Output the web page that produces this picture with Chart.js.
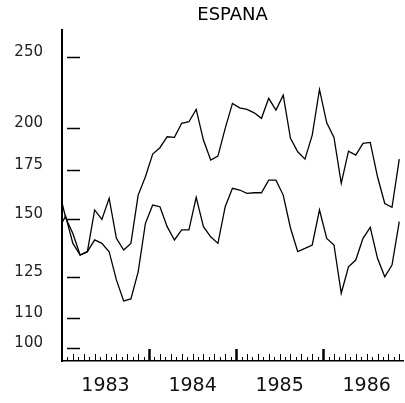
<!DOCTYPE html>
<html>
<head>
<meta charset="utf-8">
<script src="https://cdn.jsdelivr.net/npm/chart.js@4.4.0/dist/chart.umd.min.js"></script>
<style>
  html, body { margin: 0; padding: 0; background: #fff; }
  #caja { width: 405px; height: 403px; position: relative; }
</style>
</head>
<body>
<div id="caja"><canvas id="grafikEspana"></canvas></div>
<script>
// ===========================
// DATA GRAFIK
// ===========================

// serie mensual, dic 1982 - nov 1986
const inicioAnyo = 1982;
const inicioMes = 12;

const serieAlta = [
  165.8, 150.7, 143.4, 134.0, 135.4, 154.4, 149.9, 160.2, 141.2, 136.1, 139.0, 161.8,
  171.4, 184.1, 187.8, 194.4, 194.0, 202.8, 203.8, 211.9, 192.4, 180.7, 182.9, 199.6,
  215.9, 212.9, 211.9, 209.6, 206.0, 219.4, 211.4, 221.6, 193.4, 185.4, 181.2, 195.4,
  225.6, 203.1, 194.0, 167.9, 185.8, 183.5, 190.4, 191.0, 171.4, 157.6, 155.7, 181.2
];

const serieBaja = [
  145.1, 151.5, 139.0, 134.0, 135.4, 140.5, 139.0, 135.4, 123.9, 116.0, 116.7, 127.1,
  148.0, 156.8, 156.0, 146.5, 140.5, 145.0, 145.0, 160.7, 146.5, 141.9, 139.0, 156.0,
  165.3, 164.4, 162.7, 163.0, 163.0, 169.6, 169.6, 161.8, 145.9, 135.4, 136.8, 138.3,
  154.4, 141.2, 138.3, 118.8, 129.1, 131.9, 141.2, 146.2, 132.6, 125.1, 129.8, 148.8
];

const ticksY = [100, 110, 125, 150, 175, 200, 250];
const etiquetasAnyo = ["1983", "1984", "1985", "1986"];

// x = año decimal, punto a mitad de cada mes
function aPuntos(valores) {
  return valores.map((v, i) => ({
    x: inicioAnyo + (inicioMes - 1 + i + 0.5) / 12,
    y: v
  }));
}

// ===========================
// MARCAS DE LOS EJES (hacia dentro)
// ===========================
const marcasEjes = {
  id: "marcasEjes",
  afterDraw(chart) {
    const { ctx, chartArea, scales } = chart;
    const x = scales.x;
    const y = scales.y;
    ctx.save();
    ctx.strokeStyle = "#000";

    // marcas del eje y
    ctx.lineWidth = 1.5;
    ticksY.forEach((v) => {
      const py = Math.round(y.getPixelForValue(v)) + 0.5;
      ctx.beginPath();
      ctx.moveTo(chartArea.left + 5, py);
      ctx.lineTo(chartArea.left + 18, py);
      ctx.stroke();
    });

    // marcas del eje x: años y subdivisiones
    const base = chartArea.bottom;
    const primero = parseInt(etiquetasAnyo[0]);
    for (let a = primero; a <= primero + etiquetasAnyo.length; a++) {
      for (let s = 0; s < 16; s++) {
        const val = a + s / 16;
        if (val <= x.min || val >= x.max) continue;
        const px = Math.round(x.getPixelForValue(val)) + 0.5;
        let alto = s % 2 === 0 ? 7 : 4;
        ctx.lineWidth = 1;
        if (s === 0) {
          alto = 12;
          ctx.lineWidth = 2.5;
        }
        ctx.beginPath();
        ctx.moveTo(px, base);
        ctx.lineTo(px, base - alto);
        ctx.stroke();
      }
    }
    ctx.restore();
  }
};

// ===========================
// GRAFIK ESPANA
// ===========================
new Chart(document.getElementById("grafikEspana"), {
  type: "line",
  data: {
    datasets: [
      {
        data: aPuntos(serieAlta),
        borderColor: "#000",
        borderWidth: 1.3,
        pointRadius: 0,
        tension: 0,
        clip: 0
      },
      {
        data: aPuntos(serieBaja),
        borderColor: "#000",
        borderWidth: 1.3,
        pointRadius: 0,
        tension: 0,
        clip: 0
      }
    ]
  },
  options: {
    responsive: true,
    maintainAspectRatio: false,
    animation: false,
    layout: { padding: { left: 0, right: 0, top: 0, bottom: 0 } },
    plugins: {
      legend: { display: false },
      tooltip: { enabled: false },
      title: {
        display: true,
        text: "ESPANA",
        fullSize: false,
        color: "#000",
        font: { family: "DejaVu Sans", size: 18, weight: "normal" },
        padding: { top: 5, bottom: 3.4 }
      }
    },
    scales: {
      x: {
        type: "linear",
        min: 1983,
        max: 1986.92,
        grid: { display: false, drawTicks: false },
        border: { display: true, color: "#000", width: 1.5 },
        afterBuildTicks(scale) {
          scale.ticks = etiquetasAnyo.map((t) => ({ value: parseInt(t) + 0.5 }));
        },
        afterFit(scale) {
          scale.height = 42;
        },
        ticks: {
          autoSkip: false,
          maxRotation: 0,
          padding: 14,
          color: "#111",
          font: { family: "DejaVu Sans", size: 19 },
          callback: (v) => String(Math.floor(v))
        }
      },
      y: {
        type: "logarithmic",
        min: 96,
        max: 272,
        grid: { display: false, drawTicks: false },
        border: { display: true, color: "#000", width: 2 },
        afterBuildTicks(scale) {
          scale.ticks = ticksY.map((v) => ({ value: v }));
        },
        afterFit(scale) {
          scale.width = 62;
        },
        ticks: {
          padding: 19,
          labelOffset: -5,
          color: "#222",
          font: { family: "DejaVu Sans", size: 15 },
          callback: (v) => String(v)
        }
      }
    }
  },
  plugins: [marcasEjes]
});
</script>
</body>
</html>
